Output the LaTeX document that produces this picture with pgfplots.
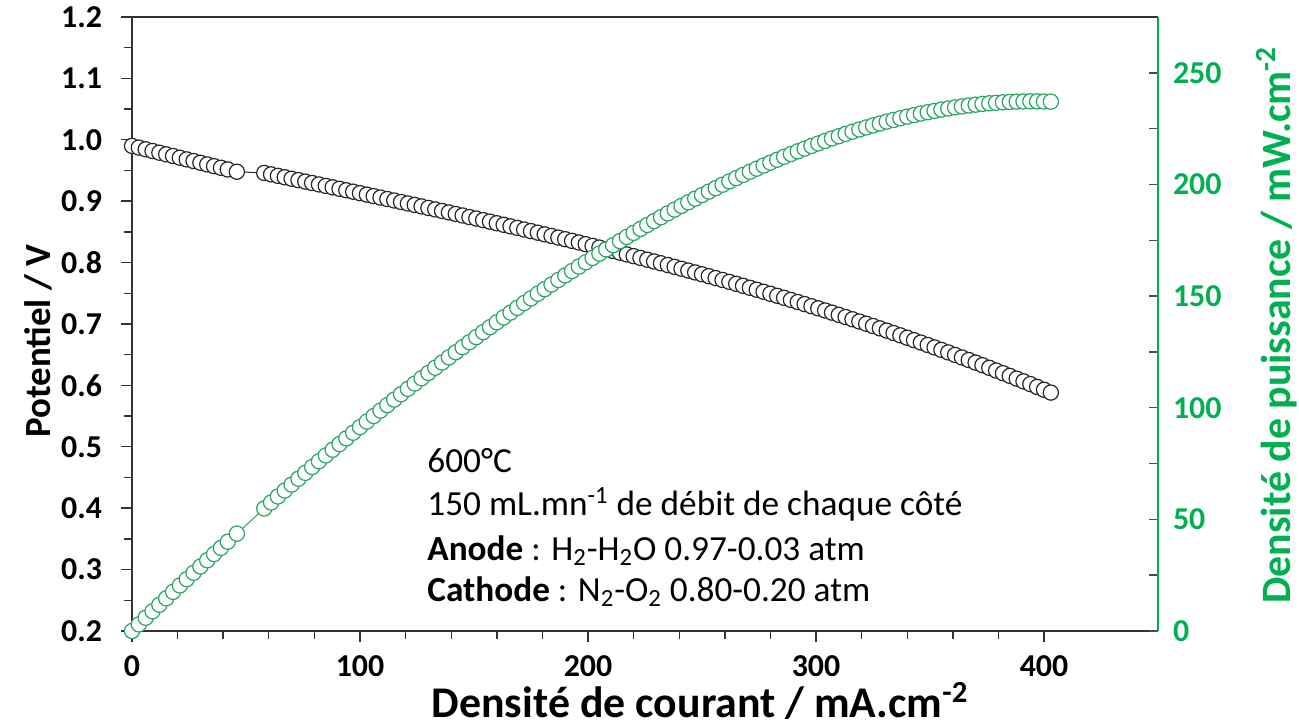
\documentclass[border=0pt]{standalone}
\usepackage{pgfplots}
\pgfplotsset{compat=1.18}
\usepackage{pgfplotstable}
\usepackage{fontspec}
\setmainfont{Carlito}
\definecolor{pgreen}{RGB}{0,176,80}
\definecolor{mgreen}{RGB}{38,166,96}

\pgfplotstableread{
I V P
0 0.9900 0.00
3 0.9873 2.96
6 0.9845 5.91
9 0.9818 8.84
12 0.9790 11.75
15 0.9763 14.64
18 0.9736 17.52
21 0.9708 20.39
24 0.9681 23.23
27 0.9654 26.06
30 0.9626 28.88
33 0.9599 31.68
36 0.9571 34.46
39 0.9544 37.22
42 0.9517 39.97
46 0.9480 43.61
58 0.9460 54.87
61 0.9437 57.57
64 0.9413 60.24
67 0.9390 62.91
70 0.9366 65.56
73 0.9343 68.20
76 0.9319 70.82
79 0.9296 73.44
82 0.9273 76.04
85 0.9249 78.62
88 0.9225 81.18
91 0.9202 83.74
94 0.9178 86.27
97 0.9155 88.80
100 0.9131 91.31
103 0.9107 93.80
106 0.9083 96.28
109 0.9059 98.74
112 0.9035 101.19
115 0.9011 103.63
118 0.8987 106.05
121 0.8963 108.45
124 0.8939 110.84
127 0.8915 113.22
130 0.8890 115.57
133 0.8866 117.92
136 0.8841 120.24
139 0.8817 122.56
142 0.8792 124.85
145 0.8767 127.12
148 0.8742 129.38
151 0.8717 131.63
154 0.8692 133.86
157 0.8667 136.07
160 0.8641 138.26
163 0.8616 140.44
166 0.8590 142.60
169 0.8565 144.75
172 0.8539 146.87
175 0.8513 148.98
178 0.8487 151.07
181 0.8460 153.13
184 0.8434 155.19
187 0.8407 157.21
190 0.8381 159.24
193 0.8354 161.23
196 0.8327 163.21
199 0.8300 165.17
202 0.8272 167.09
205 0.8245 169.02
208 0.8217 170.91
211 0.8189 172.79
214 0.8161 174.65
217 0.8133 176.49
220 0.8105 178.31
223 0.8076 180.09
226 0.8047 181.86
229 0.8018 183.61
232 0.7989 185.34
235 0.7960 187.06
238 0.7930 188.73
241 0.7900 190.39
244 0.7870 192.03
247 0.7840 193.65
250 0.7810 195.25
253 0.7779 196.81
256 0.7748 198.35
259 0.7717 199.87
262 0.7686 201.37
265 0.7654 202.83
268 0.7622 204.27
271 0.7590 205.69
274 0.7558 207.09
277 0.7525 208.44
280 0.7492 209.78
283 0.7459 211.09
286 0.7426 212.38
289 0.7392 213.63
292 0.7358 214.85
295 0.7324 216.06
298 0.7290 217.24
301 0.7255 218.38
304 0.7220 219.49
307 0.7185 220.58
310 0.7149 221.62
313 0.7113 222.64
316 0.7077 223.63
319 0.7041 224.61
322 0.7004 225.53
325 0.6967 226.43
328 0.6929 227.27
331 0.6892 228.13
334 0.6853 228.89
337 0.6815 229.67
340 0.6776 230.38
343 0.6737 231.08
346 0.6698 231.75
349 0.6658 232.36
352 0.6618 232.95
355 0.6578 233.52
358 0.6537 234.02
361 0.6496 234.51
364 0.6455 234.96
367 0.6413 235.36
370 0.6371 235.73
373 0.6329 236.07
376 0.6286 236.35
379 0.6242 236.57
382 0.6199 236.80
385 0.6155 236.97
388 0.6110 237.07
391 0.6066 237.18
394 0.6021 237.23
397 0.5975 237.21
400 0.5929 237.16
403 0.5883 237.08
}\data

\begin{document}
\begin{tikzpicture}
\path[use as bounding box] (-66bp,-47.5bp) rectangle (583.5bp,315.5bp);
\begin{axis}[
  at={(0,0)}, anchor=south west,
  scale only axis, width=513bp, height=307bp,
  xmin=0, xmax=450, ymin=0.2, ymax=1.2,
  axis x line*=bottom, axis y line*=left,
  axis line style={black!80, line width=0.8bp},
  xtick={0,100,200,300,400}, minor x tick num=4,
  ytick={0.2,0.3,0.4,0.5,0.6,0.7,0.8,0.9,1.0,1.1,1.2},
  minor y tick num=1,
  tick align=outside,
  major tick length=5.5bp, minor tick length=4bp,
  tick style={black!80, line width=0.7bp},
  /pgf/number format/assume math mode=true,
  ticklabel style={font=\fontsize{16}{16}\selectfont\bfseries},
  yticklabel style={xshift=-6bp, /pgf/number format/fixed, /pgf/number format/fixed zerofill, /pgf/number format/precision=1},
  xticklabel style={inner sep=0pt, yshift=-6.5bp},
]
\addplot[color=black!85, line width=0.5bp, mark=*, mark size=3.8bp,
  mark options={fill=white, solid, line width=0.6bp}] table[x=I, y=V] {\data};
\end{axis}
\begin{axis}[
  at={(0,0)}, anchor=south west,
  scale only axis, width=513bp, height=307bp,
  xmin=0, xmax=450, ymin=0, ymax=275,
  axis x line*=top, axis y line*=right,
  x axis line style={black!80, line width=0.8bp},
  y axis line style={pgreen, line width=0.8bp},
  xtick=\empty,
  ytick={0,50,100,150,200,250}, minor y tick num=1,
  tick align=inside,
  major tick length=4.5bp, minor tick length=4.5bp,
  tick style={black!70, line width=0.7bp},
  /pgf/number format/assume math mode=true,
  yticklabel style={font=\fontsize{16}{16}\selectfont\bfseries, text=pgreen, xshift=4bp},
]
\addplot[color=mgreen, line width=0.5bp, mark=*, mark size=3.8bp,
  mark options={fill=white, solid, line width=0.6bp}] table[x=I, y=P] {\data};
\end{axis}
\begin{scope}[every node/.style={anchor=base west, inner sep=0pt, font=\fontsize{17.7}{17.7}\selectfont}]
\node at (147.5bp,79bp) {600°C};
\node at (147.5bp,57.5bp) {150 mL.mn\textsuperscript{-1} de débit de chaque côté};
\node at (147.5bp,35.5bp) {\textbf{Anode} : H\textsubscript{2}-H\textsubscript{2}O 0.97-0.03 atm};
\node at (147.5bp,15bp) {\textbf{Cathode} : N\textsubscript{2}-O\textsubscript{2} 0.80-0.20 atm};
\end{scope}
\node[anchor=base, inner sep=0pt, font=\fontsize{22}{22}\selectfont\bfseries] at (284bp,-43bp) {Densit\smash{é} de courant / mA.cm\smash{\textsuperscript{-2}}};
\node[rotate=90, font=\fontsize{18.5}{18.5}\selectfont\bfseries] at (-47bp,145bp) {Potentiel / V};
\node[rotate=90, font=\fontsize{21}{21}\selectfont\bfseries, text=pgreen] at (572.5bp,153bp) {Densité de puissance / mW.cm\textsuperscript{-2}};
\end{tikzpicture}
\end{document}
